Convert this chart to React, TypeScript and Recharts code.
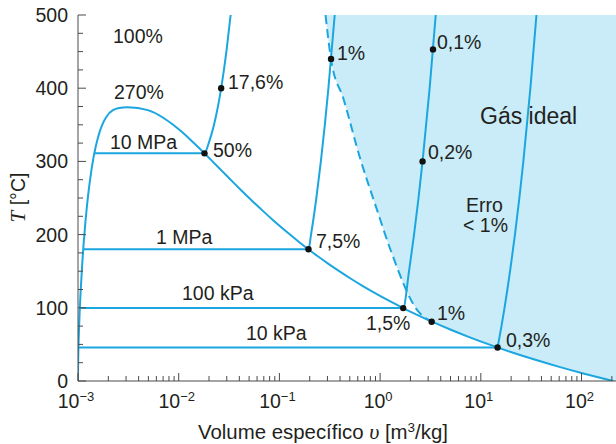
import React from 'react'
import { ComposedChart, XAxis, YAxis, Line, Area, Scatter } from 'recharts'

// saturação da água (T em °C, v em m3/kg)
const satT = [0.01, 10, 20, 30, 40, 50, 60, 70, 80, 90, 100, 110, 120, 130, 140, 150, 160, 170, 180, 190, 200, 210, 220, 230, 240, 250, 260, 270, 280, 290, 300, 310, 320, 330, 340, 350, 360, 370]
const satVf = [0.001, 0.001, 0.001002, 0.001004, 0.001008, 0.001012, 0.001017, 0.001023, 0.001029, 0.001036, 0.001043, 0.001052, 0.00106, 0.00107, 0.00108, 0.001091, 0.001102, 0.001114, 0.001127, 0.001141, 0.001157, 0.001173, 0.00119, 0.001209, 0.001229, 0.001252, 0.001276, 0.001303, 0.001333, 0.001366, 0.001404, 0.001447, 0.001499, 0.001561, 0.001638, 0.00174, 0.001895, 0.002222]
const satVg = [206.0, 106.32, 57.762, 32.879, 19.515, 12.026, 7.667, 5.0396, 3.4053, 2.3593, 1.672, 1.2094, 0.89133, 0.66808, 0.5085, 0.39248, 0.3068, 0.2426, 0.19384, 0.15636, 0.12721, 0.10429, 0.08609, 0.0715, 0.0597, 0.05008, 0.04217, 0.03562, 0.03015, 0.02556, 0.02166, 0.01834, 0.01548, 0.01298, 0.01079, 0.00881, 0.00695, 0.00494]
const critT = 373.95
const critV = 0.003106

// isobaras
const p10MPaV = [0.001452, 0.01803, 0.01986, 0.02242, 0.02641, 0.02975, 0.03279]
const p10MPaT = [311, 311, 325, 350, 400, 450, 500]
const p1MPaV = [0.001127, 0.19436, 0.206, 0.23275, 0.25799, 0.2825, 0.30661, 0.35411]
const p1MPaT = [179.9, 179.9, 200, 250, 300, 350, 400, 500]
const p100kPaV = [0.001043, 1.6941, 1.9367, 2.1724, 2.4062, 2.6389, 3.1027, 3.5655]
const p100kPaT = [99.61, 99.61, 150, 200, 250, 300, 400, 500]
const p10kPaV = [0.00101, 14.67, 14.867, 17.196, 19.513, 21.826, 24.136, 26.446, 31.063, 35.68]
const p10kPaT = [45.81, 45.81, 50, 100, 150, 200, 250, 300, 400, 500]

// limite de 1% de erro (tracejado)
const dashV = [0.287, 0.325, 0.434, 0.64, 0.9, 1.27, 2.36, 3.25]
const dashT = [500, 440, 385, 302, 240, 179, 96, 81]

// pontos marcados
const markV = [0.02641, 0.01803, 0.3256, 3.35, 2.6389, 0.19436, 1.6941, 3.25, 14.67]
const markT = [400, 311, 440, 453, 300, 179.9, 99.61, 81, 45.81]

const vMin = 0.001
const vMax = 241
const xMajor = [1e-3, 1e-2, 1e-1, 1, 10, 100]
const xTicks = xMajor.flatMap((d) => [1, 2, 3, 4, 5, 6, 7, 8, 9].map((m) => +(m * d).toPrecision(3))).filter((v) => v <= vMax)
const yTicks = Array.from({ length: 21 }, (_, i) => i * 25)

const pts = (vs: number[], ts: number[]) => vs.map((v, i) => ({ v, T: ts[i] }))

const dome = [
  ...pts(satVf, satT),
  { v: critV, T: critT },
  ...pts(satVg, satT).reverse(),
]
const shade = [
  ...dashV.map((v, i) => ({ v, range: [dashT[i], 500] })),
  ...satT
    .map((t, i) => ({ v: satVg[i], range: [t, 500] }))
    .filter((p) => p.range[0] < dashT[dashT.length - 1])
    .reverse(),
  { v: vMax, range: [0, 500] },
]

const BLUE = '#1ba6e0'
const FONT = '"Liberation Sans", Arial, Helvetica, sans-serif'
const SERIF = '"Liberation Serif", "Times New Roman", serif'
const INK = '#231f20'
const AXIS = '#4a4a4a'

const isMajorV = (v: number) => Math.abs(Math.log10(v) - Math.round(Math.log10(v))) < 1e-6

const BottomTick = ({ x, y, payload }: any) => {
  const v = payload.value
  const major = isMajorV(v)
  const e = Math.round(Math.log10(v))
  return (
    <g>
      <line x1={x} x2={x} y1={y} y2={y - (major ? 8 : 5)} stroke={AXIS} />
      {major && (
        <text x={x - 2} y={y + 27} textAnchor="middle" fontFamily={FONT} fontSize={19.5} fill={INK}>
          10
          <tspan dy={-7} fontSize={13}>
            {e < 0 ? '\u2212' + -e : String(e)}
          </tspan>
        </text>
      )}
    </g>
  )
}

const TopTick = ({ x, y, payload }: any) => (
  <line x1={x} x2={x} y1={y} y2={y + (isMajorV(payload.value) ? 8 : 5)} stroke={AXIS} />
)

const LeftTick = ({ x, y, payload }: any) => {
  const major = payload.value % 100 === 0
  return (
    <g>
      <line x1={x} x2={x + (major ? 8 : 5)} y1={y} y2={y} stroke={AXIS} />
      {major && (
        <text x={x - 10} y={y + 7} textAnchor="end" fontFamily={FONT} fontSize={19.5} fill={INK}>
          {payload.value}
        </text>
      )}
    </g>
  )
}

const RightTick = ({ x, y, payload }: any) =>
  payload.value % 100 === 0 ? <line x1={x} x2={x - 8} y1={y} y2={y} stroke={AXIS} /> : <g />

const Dot = (p: any) => <circle cx={p.cx} cy={p.cy} r={3.2} fill="#111" />

export default function App() {
  const t = { fontFamily: FONT, fontSize: 19.5, fill: INK }
  return (
    <div style={{ position: 'absolute', left: 0, top: 0, width: 616, height: 444, overflow: 'hidden', background: '#fff' }}>
      <ComposedChart width={620} height={444} margin={{ top: 15, right: 0, bottom: 23, left: 28 }}>
        <Area
          data={shade}
          dataKey="range"
          type="monotone"
          stroke="none"
          fill="#c9ecf8"
          fillOpacity={1}
          isAnimationActive={false}
          activeDot={false}
        />
        <Line data={dome} dataKey="T" type="natural" stroke={BLUE} strokeWidth={2} dot={false} activeDot={false} isAnimationActive={false} />
        <Line data={pts(p10MPaV, p10MPaT)} dataKey="T" type="monotone" stroke={BLUE} strokeWidth={2} dot={false} activeDot={false} isAnimationActive={false} />
        <Line data={pts(p1MPaV, p1MPaT)} dataKey="T" type="monotone" stroke={BLUE} strokeWidth={2} dot={false} activeDot={false} isAnimationActive={false} />
        <Line data={pts(p100kPaV, p100kPaT)} dataKey="T" type="monotone" stroke={BLUE} strokeWidth={2} dot={false} activeDot={false} isAnimationActive={false} />
        <Line data={pts(p10kPaV, p10kPaT)} dataKey="T" type="monotone" stroke={BLUE} strokeWidth={2} dot={false} activeDot={false} isAnimationActive={false} />
        <Line data={pts(dashV, dashT)} dataKey="T" type="monotone" stroke={BLUE} strokeWidth={2} strokeDasharray="9 5" dot={false} activeDot={false} isAnimationActive={false} />
        <Scatter data={pts(markV, markT)} dataKey="T" shape={Dot} isAnimationActive={false} />
        <XAxis
          dataKey="v"
          type="number"
          scale="log"
          domain={[vMin, vMax]}
          allowDataOverflow
          ticks={xTicks}
          interval={0}
          tickSize={0}
          tickMargin={0}
          tickLine={false}
          tick={BottomTick}
          height={40}
          stroke={AXIS}
        />
        <XAxis
          xAxisId="top"
          orientation="top"
          dataKey="v"
          type="number"
          scale="log"
          domain={[vMin, vMax]}
          allowDataOverflow
          ticks={xTicks}
          interval={0}
          tickSize={0}
          tickMargin={0}
          tickLine={false}
          tick={TopTick}
          height={0}
          stroke={AXIS}
        />
        <YAxis
          dataKey="T"
          type="number"
          domain={[0, 500]}
          allowDataOverflow
          ticks={yTicks}
          interval={0}
          tickSize={0}
          tickMargin={0}
          tickLine={false}
          tick={LeftTick}
          width={50}
          stroke={AXIS}
        />
        <YAxis
          yAxisId="right"
          orientation="right"
          type="number"
          domain={[0, 500]}
          ticks={yTicks}
          interval={0}
          tickSize={0}
          tickMargin={0}
          tickLine={false}
          tick={RightTick}
          width={0}
          stroke={AXIS}
        />
      </ComposedChart>
      <svg width={620} height={444} style={{ position: 'absolute', left: 0, top: 0, pointerEvents: 'none' }}>
        <text x={113} y={42.5} {...t}>100%</text>
        <text x={114} y={99} {...t}>270%</text>
        <text x={110} y={149} {...t}>10 MPa</text>
        <text x={213} y={156.5} {...t}>50%</text>
        <text x={228} y={89} {...t}>17,6%</text>
        <text x={337} y={60} {...t}>1%</text>
        <text x={437} y={49} {...t}>0,1%</text>
        <text x={480} y={124} {...t} fontSize={23}>Gás ideal</text>
        <text x={428} y={159} {...t}>0,2%</text>
        <text x={466} y={212} {...t}>Erro</text>
        <text x={463} y={232} {...t}>&lt; 1%</text>
        <text x={156} y={244} {...t}>1 MPa</text>
        <text x={182} y={300} {...t}>100 kPa</text>
        <text x={246} y={340} {...t}>10 kPa</text>
        <text x={316} y={248} {...t}>7,5%</text>
        <text x={366} y={330} {...t}>1,5%</text>
        <text x={437} y={320} {...t}>1%</text>
        <text x={506} y={347} {...t}>0,3%</text>
        <text x={198} y={439} {...t} fontSize={20.4}>
          Volume específico <tspan fontFamily={SERIF} fontStyle="italic" fontSize={22}>υ</tspan> [m
          <tspan dy={-7} fontSize={13.5}>3</tspan>
          <tspan dy={7}>/kg]</tspan>
        </text>
        <text x={25} y={197.5} {...t} textAnchor="middle" transform="rotate(-90 25 197.5)">
          <tspan fontFamily={SERIF} fontStyle="italic" fontSize={21}>T</tspan> [°C]
        </text>
      </svg>
    </div>
  )
}
